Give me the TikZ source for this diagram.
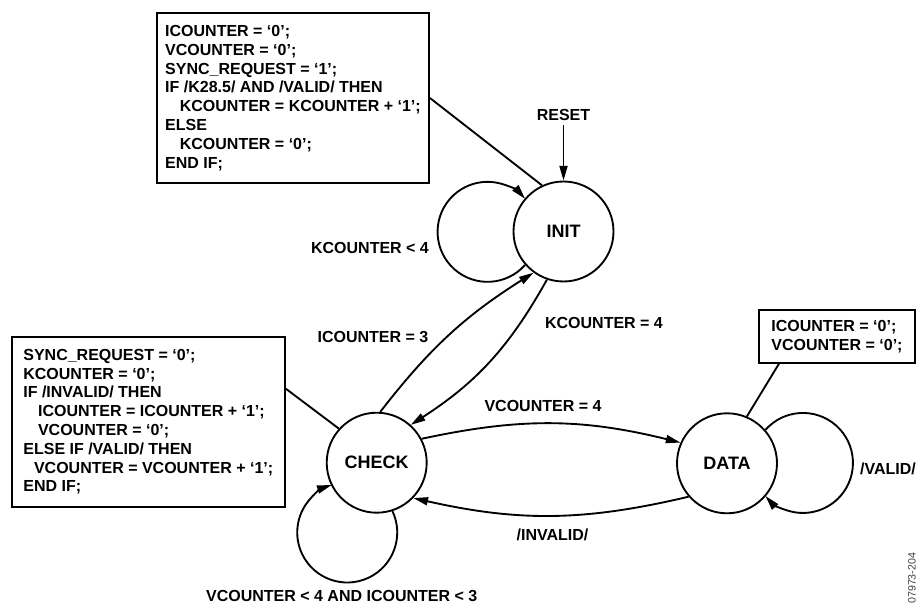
\documentclass[tikz,border=0pt]{standalone}
\usepackage{fontspec}
\setmainfont{Liberation Sans}
\usetikzlibrary{arrows.meta}

\begin{document}
\begin{tikzpicture}[x=0.75pt,y=0.75pt,
    state/.style={draw=black, circle, line width=1.4pt, minimum size=75pt, inner sep=0pt, font=\fontsize{13.5}{16}\selectfont\bfseries},
    codebox/.style={draw=black, line width=1.4pt, align=left, inner sep=0pt},
    trans/.style={black, line width=1.4pt, -{Triangle[length=11pt,width=6pt]}},
    wire/.style={black, line width=1.4pt}]
    \tikzstyle{every node}+=[font=\fontsize{12}{14.1}\selectfont\bfseries]
    \useasboundingbox (0,0) rectangle (917,-605);
    \node [state] (init) at (563.5,-231.5) {INIT};
    \node [state] (check) at (376.7,-462.7) {CHECK};
    \node [state] (data) at (727,-463.3) {DATA};
    \node [codebox, minimum width=204pt, minimum height=127.5pt] (initbox) at (293,-98) {ICOUNTER = ‘0’;\\VCOUNTER = ‘0’;\\SYNC\_REQUEST = ‘1’;\\IF /K28.5/ AND /VALID/ THEN\\\hspace*{11pt}KCOUNTER = KCOUNTER + ‘1’;\\ELSE\\\hspace*{11pt}KCOUNTER = ‘0’;\\END IF;};
    \node [codebox, minimum width=205pt, minimum height=127.5pt] (chkbox) at (148.3,-421.7) {SYNC\_REQUEST = ‘0’;\\KCOUNTER = ‘0’;\\IF /INVALID/ THEN\\\hspace*{11pt}ICOUNTER = ICOUNTER + ‘1’;\\\hspace*{11pt}VCOUNTER = ‘0’;\\ELSE IF /VALID/ THEN\\\hspace*{8pt}VCOUNTER = VCOUNTER + ‘1’;\\END IF;};
    \node [codebox, minimum width=117pt, minimum height=39.5pt] (databox) at (837,-336.3) {ICOUNTER = ‘0’;\\VCOUNTER = ‘0’;};
    \node (reset) at (563.5,-115) {RESET};
    \draw [trans] (reset) -- (init);
    \draw [wire] (initbox.east) -- (init.115);
    \draw [wire] (chkbox.north east) ++(0,-53) -- (check.138);
    \draw [wire] (databox.south west) ++(21,0) -- (data.67);
    \draw [trans] (init.221) arc (-41.4:-318.6:37.5pt);
    \node (kless) at (370,-248) {KCOUNTER < 4};
    \draw [trans] (check.288) arc (25.3:-251.9:37.5pt);
    \node (vless) at (341.7,-596) {VCOUNTER < 4 AND ICOUNTER < 3};
    \draw [trans] (data.41) arc (138.6:-138.6:37.5pt);
    \node (valid) at (888,-469) {/VALID/};
    \draw [trans] (check.86) to [bend left=10] (init.234);
    \node (ieq) at (373,-337) {ICOUNTER = 3};
    \draw [trans] (init.251) to [bend left=14] (check.48);
    \node (keq) at (604,-323) {KCOUNTER = 4};
    \draw [trans] (check.28) to [bend left=13] (data.156);
    \node (veq) at (543,-406) {VCOUNTER = 4};
    \draw [trans] (data.221) to [bend left=13] (check.316);
    \node (inval) at (552.5,-535) {/INVALID/};
    \node (figno) [rotate=90, anchor=east, font=\fontsize{8}{9}\selectfont, text=black!75] at (912,-548) {07973-204};
\end{tikzpicture}
\end{document}
